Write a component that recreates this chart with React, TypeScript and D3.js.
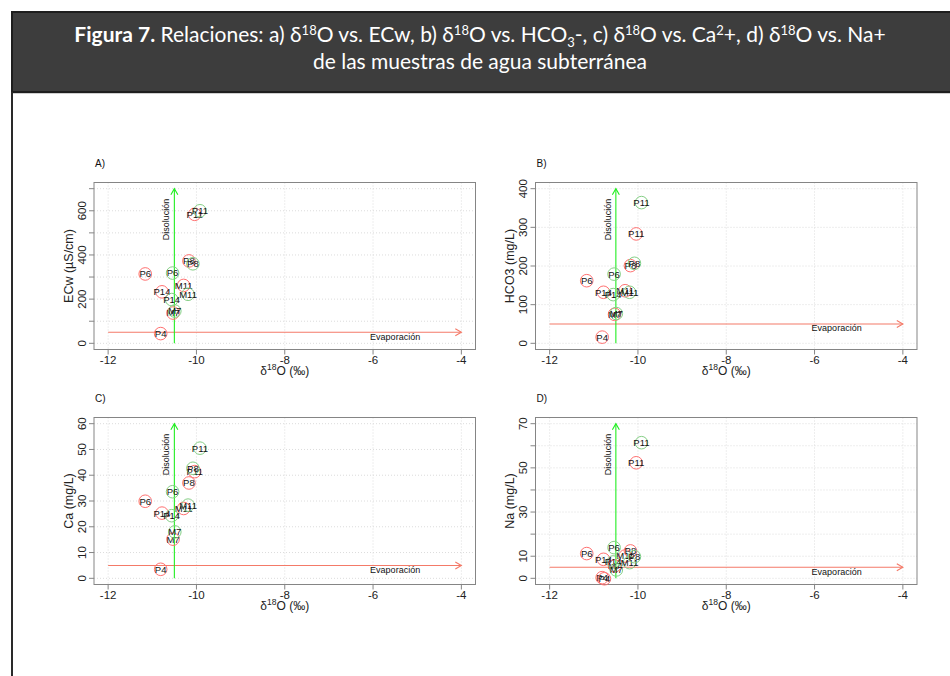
import React from 'react';
import * as d3 from 'd3';

// ---------- data ----------
const sampleLabels = ['P4', 'P6', 'P14', 'M7', 'M11', 'P8', 'P11', 'P6', 'P14', 'M7', 'M11', 'P8', 'P11', 'P4'];
const campaign = ['r', 'r', 'r', 'r', 'r', 'r', 'r', 'g', 'g', 'g', 'g', 'g', 'g', 'r'];
const delta18O = [-10.81, -11.16, -10.78, -10.53, -10.29, -10.17, -10.04, -10.54, -10.56, -10.49, -10.19, -10.08, -9.92, -10.76];
const ecw = [44, 314, 233, 137, 262, 373, 584, 318, 198, 146, 222, 360, 600, null];
const hco3 = [16, 162, 132, 75, 136, 201, 283, 179, 126, 77, 132, 207, 364, null];
const ca = [3.5, 29.9, 25.3, 15.2, 27.1, 37, 41.4, 33.6, 24.3, 18, 28.4, 42.7, 50.5, null];
const na = [0.3, 11.2, 8.6, 5.6, 10.1, 12.4, 52.3, 13.9, 7.4, 3.8, 7.1, 9.8, 61.4, -0.2];

const panelLetters = ['A)', 'B)', 'C)', 'D)'];
const yTitles = ['ECw (µS/cm)', 'HCO3 (mg/L)', 'Ca (mg/L)', 'Na (mg/L)'];
const yRanges = [[0, 700], [0, 400], [0, 60], [0, 70]];
const yTickSteps = [100, 100, 10, 10];
const yLabelTicks = [[0, 200, 400, 600], [0, 100, 200, 300, 400], [0, 10, 20, 30, 40, 50, 60], [0, 10, 30, 50, 70]];
const xTicks = [-12, -10, -8, -6, -4];
const xRange = [-12, -4];
const evapY = [50, 50, 5, 5];
const evapLabelX = -5.5;
const dissolX = -10.5;
const panelValues = [ecw, hco3, ca, na];

// ---------- layout ----------
const colLeft = [94, 535.5];
const rowTop = [182.5, 417.5];
const frameW = 381.5;
const frameH = 167;
const FONT = 'Liberation Sans, Arial, sans-serif';
const RED = '#ff7070';
const GREEN = '#86cf86';

function arrowHead(x: number, y: number, angle: number, len = 7) {
  const a1 = angle + Math.PI - Math.PI / 6;
  const a2 = angle + Math.PI + Math.PI / 6;
  return `M${x + len * Math.cos(a1)},${y + len * Math.sin(a1)}L${x},${y}L${x + len * Math.cos(a2)},${y + len * Math.sin(a2)}`;
}

function Panel({ i }: { i: number }) {
  const fx0 = colLeft[i % 2];
  const fy0 = rowTop[Math.floor(i / 2)];
  const fx1 = fx0 + frameW;
  const fy1 = fy0 + frameH;
  const [xlo, xhi] = xRange;
  const xp = (xhi - xlo) * 0.04;
  const x = d3.scaleLinear().domain([xlo - xp, xhi + xp]).range([fx0, fx1]);
  const [ylo, yhi] = yRanges[i];
  const yp = (yhi - ylo) * 0.04;
  const y = d3.scaleLinear().domain([ylo - yp, yhi + yp]).range([fy1, fy0]);
  const yTicks = d3.range(ylo, yhi + 0.0001, yTickSteps[i]);
  const vals = panelValues[i];
  const evY = y(evapY[i]);
  const dx = x(dissolX);

  return (
    <g>
      <text x={fx0 + 1} y={fy0 - 16} fontFamily={FONT} fontSize={10} fill="#111">{panelLetters[i]}</text>
      {xTicks.map((t) => (
        <line key={'gx' + t} x1={x(t)} x2={x(t)} y1={fy0} y2={fy1} stroke="#dcdcdc" strokeWidth={1} strokeDasharray="1,2" />
      ))}
      {yTicks.map((t) => (
        <line key={'gy' + t} x1={fx0} x2={fx1} y1={y(t)} y2={y(t)} stroke="#dcdcdc" strokeWidth={1} strokeDasharray="1,2" />
      ))}
      <rect x={fx0} y={fy0} width={frameW} height={frameH} fill="none" stroke="#858585" strokeWidth={1} />
      {xTicks.map((t) => (
        <g key={'xt' + t}>
          <line x1={x(t)} x2={x(t)} y1={fy1} y2={fy1 + 5} stroke="#858585" />
          <text x={x(t)} y={fy1 + 14.5} textAnchor="middle" fontFamily={FONT} fontSize={11.5} fill="#222">{t}</text>
        </g>
      ))}
      <text x={(fx0 + fx1) / 2} y={fy1 + 25} textAnchor="middle" fontFamily={FONT} fontSize={12} fill="#222">
        δ<tspan fontSize={8.5} dy={-5}>18</tspan><tspan dy={5}>O (‰)</tspan>
      </text>
      {yTicks.map((t) => (
        <line key={'yt' + t} x1={fx0 - 5} x2={fx0} y1={y(t)} y2={y(t)} stroke="#858585" />
      ))}
      {yLabelTicks[i].map((t) => (
        <text key={'yl' + t} transform={`translate(${fx0 - 8.5},${y(t)}) rotate(-90)`} textAnchor="middle" fontFamily={FONT} fontSize={11.5} fill="#222">{t}</text>
      ))}
      <text transform={`translate(${fx0 - 21.5},${(fy0 + fy1) / 2}) rotate(-90)`} textAnchor="middle" fontFamily={FONT} fontSize={12.5} fill="#222">{yTitles[i]}</text>
      <line x1={x(xlo)} x2={x(xhi)} y1={evY} y2={evY} stroke="#f47a68" strokeWidth={1.1} />
      <path d={arrowHead(x(xhi), evY, 0)} fill="none" stroke="#f47a68" strokeWidth={1.1} />
      <text x={x(evapLabelX)} y={evY + 7.5} textAnchor="middle" fontFamily={FONT} fontSize={9} fill="#111">Evaporación</text>
      <line x1={dx} x2={dx} y1={y(ylo)} y2={y(yhi)} stroke="#22ee22" strokeWidth={1.1} />
      <path d={arrowHead(dx, y(yhi), -Math.PI / 2)} fill="none" stroke="#22ee22" strokeWidth={1.1} />
      <text transform={`translate(${dx - 5},${fy0 + 37}) rotate(-90)`} textAnchor="middle" fontFamily={FONT} fontSize={9} fill="#111">Disolución</text>
      {vals.map((v, k) =>
        v === null ? null : (
          <g key={'p' + k}>
            <circle cx={x(delta18O[k])} cy={y(v)} r={6.3} fill="none" stroke={campaign[k] === 'r' ? RED : GREEN} strokeWidth={1} />
            <text x={x(delta18O[k])} y={y(v)} dy="0.36em" textAnchor="middle" fontFamily={FONT} fontSize={9.5} fill="#111">{sampleLabels[k]}</text>
          </g>
        )
      )}
    </g>
  );
}

export default function App() {
  const HF = 'Lato, "Open Sans", sans-serif';
  return (
    <svg width={950} height={676} style={{ position: 'absolute', left: 0, top: 0, background: '#fff' }}>
      <rect x={0} y={0} width={950} height={676} fill="#fff" />
      <rect x={12} y={12} width={945} height={80} fill="#3d3d3d" stroke="#1e1e1e" strokeWidth={2} />
      <line x1={13} x2={950} y1={93.5} y2={93.5} stroke="#cfcfcf" strokeWidth={1} />
      <line x1={12} x2={12} y1={92} y2={676} stroke="#2a2a2a" strokeWidth={2} />
      <text x={480} y={42} textAnchor="middle" fontFamily={HF} fontSize={21} fill="#fff">
        <tspan fontWeight="bold">Figura 7.</tspan>
        <tspan> Relaciones: a) δ</tspan><tspan fontSize={13} dy={-7}>18</tspan>
        <tspan dy={7}>O vs. ECw, b) δ</tspan><tspan fontSize={13} dy={-7}>18</tspan>
        <tspan dy={7}>O vs. HCO</tspan><tspan fontSize={13} dy={5}>3</tspan>
        <tspan dy={-5}>-, c) δ</tspan><tspan fontSize={13} dy={-7}>18</tspan>
        <tspan dy={7}>O vs. Ca</tspan><tspan fontSize={13} dy={-7}>2</tspan>
        <tspan dy={7}>+, d) δ</tspan><tspan fontSize={13} dy={-7}>18</tspan>
        <tspan dy={7}>O vs. Na+</tspan>
      </text>
      <text x={480} y={69} textAnchor="middle" fontFamily={HF} fontSize={21} fill="#fff">de las muestras de agua subterránea</text>
      {[0, 1, 2, 3].map((i) => (
        <Panel key={i} i={i} />
      ))}
    </svg>
  );
}
